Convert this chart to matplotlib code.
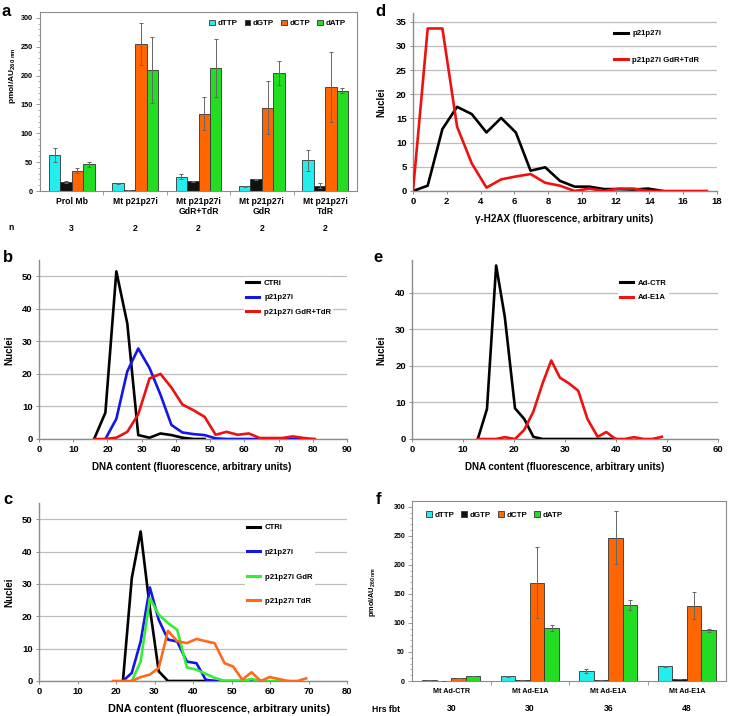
import matplotlib
matplotlib.use('Agg')
import matplotlib.pyplot as plt
import matplotlib.transforms as mtransforms
import numpy as np

plt.rcParams['font.family'] = ['Liberation Sans', 'DejaVu Sans']
plt.rcParams['font.weight'] = 'bold'
plt.rcParams['mathtext.fontset'] = 'custom'
plt.rcParams['mathtext.rm'] = 'Liberation Sans:bold'
plt.rcParams['mathtext.default'] = 'rm'

# ---- panel a: dNTP pools ----
a_groups = ['Prol Mb', 'Mt p21p27i', 'Mt p21p27i\nGdR+TdR', 'Mt p21p27i\nGdR', 'Mt p21p27i\nTdR']
a_n = ['3', '2', '2', '2', '2']
a_dttp = [62, 13, 25, 8, 53]
a_dttp_err = [12, 1, 4, 1, 18]
a_dgtp = [16, 2, 17, 20, 9]
a_dgtp_err = [2, 0.5, 1, 1, 4]
a_dctp = [35, 255, 134, 144, 180]
a_dctp_err = [4, 36, 28, 46, 61]
a_datp = [46, 209, 213, 204, 174]
a_datp_err = [4, 57, 50, 21, 4]

# ---- panel f: dNTP pools, Ad-E1A ----
f_groups = ['Mt Ad-CTR', 'Mt Ad-E1A', 'Mt Ad-E1A', 'Mt Ad-E1A']
f_hrs = ['30', '30', '36', '48']
f_dttp = [2.3, 8, 17, 25]
f_dttp_err = [0, 1, 4, 1]
f_dgtp = [0.6, 1, 2.3, 3.5]
f_dgtp_err = [0, 0, 0, 0]
f_dctp = [4.6, 169, 247, 130]
f_dctp_err = [0, 61, 46, 23]
f_datp = [8, 91, 131, 87]
f_datp_err = [0, 5, 8, 2]

nuc_labels = ['dTTP', 'dGTP', 'dCTP', 'dATP']

# ---- panel b: DNA content ----
b_bins = [16.1, 19.4, 22.6, 25.8, 29.0, 32.3, 35.5, 38.7, 41.9, 45.2, 48.4,
          51.6, 54.8, 58.1, 61.3, 64.5, 67.7, 71.0, 74.2, 77.4, 80.6]
b_ctri = [0, 8.1, 51.5, 35.5, 1.2, 0.4, 1.7, 1.2, 0.4, 0, 0]
b_p21p27i = [0, 6.2, 20.8, 27.8, 21.8, 13.6, 4.3, 2.0, 1.5, 1.2, 0.2, 0, 0, 0, 0, 0, 0, 0, 0]
b_gdr_tdr = [0, 0, 0.4, 2.2, 7.6, 18.6, 20.0, 15.8, 10.6, 8.8, 6.8, 1.3, 2.2, 1.3, 1.7,
             0.3, 0.3, 0.3, 0.8, 0.3, 0]

# ---- panel c: DNA content ----
c_bins = [19.2, 21.8, 24.1, 26.4, 28.8, 31.1, 33.5, 35.9, 38.4, 40.9, 43.3, 45.6,
          48.2, 50.4, 52.8, 55.2, 57.6, 59.9, 62.3, 64.7, 67.1, 69.4]
c_ctri = [0, 31.8, 46.2, 22.5, 3.0, 0, 0, 0, 0, 0, 0]
c_p21p27i = [0, 2.5, 12.2, 28.9, 18.9, 12.8, 12.2, 6.0, 5.5, 0.4, 0, 0, 0, 0, 0.3, 0]
c_gdr = [0, 6.0, 25.6, 20.5, 17.9, 15.8, 4.2, 3.5, 2.2, 1.0, 0, 0, 0, 0.6, 0, 0, 0, 0]
c_tdr = [0, 0, 0, 1.2, 2.0, 4.0, 15.5, 12.3, 11.7, 13.0, 12.3, 11.7, 5.5, 4.5, 0.4,
         2.7, 0, 1.2, 0.6, 0, 0, 0.8]

# ---- panel d: gamma-H2AX ----
d_bins = [0, 0.87, 1.74, 2.61, 3.48, 4.35, 5.22, 6.09, 6.96, 7.83, 8.7, 9.57,
          10.44, 11.31, 12.18, 13.05, 13.92, 14.79, 15.66, 16.53, 17.4]
d_p21p27i = [0, 1.1, 12.8, 17.4, 15.9, 12.1, 15.1, 12.1, 4.2, 4.9, 2.1, 0.9, 0.9,
             0.4, 0.4, 0.3, 0.5, 0]
d_gdr_tdr = [0, 33.6, 33.6, 13.3, 5.7, 0.7, 2.4, 3.0, 3.5, 1.7, 1.1, 0, 0.5, 0,
             0.5, 0.5, 0, 0, 0, 0, 0]

# ---- panel e: DNA content, Ad-E1A ----
e_bins = [12.9, 14.7, 16.5, 18.2, 20.2, 22.0, 23.8, 25.6, 27.3, 29.0, 30.8, 32.6,
          34.4, 36.4, 38.1, 39.9, 41.8, 43.5, 45.4, 47.1, 49.0]
e_ad_ctr = [0, 8.2, 47.5, 33.4, 8.4, 5.5, 0.6, 0, 0, 0, 0, 0, 0, 0, 0, 0]
e_ad_e1a = [0, 0, 0, 0.5, 0, 2.5, 7.5, 15.2, 21.5, 16.8, 15.2, 13.2, 5.5, 0.6, 1.9,
            0, 0, 0.5, 0, 0, 0.6]

W, H = 729, 716
fig = plt.figure(figsize=(W / 100, H / 100), dpi=100)


def box(l, t, r, b):
    return [l / W, 1 - b / H, (r - l) / W, (b - t) / H]


def ftext(x, y, s, **kw):
    fig.text(x / W, 1 - y / H, s, **kw)


BAR_COLORS = ['#22eeee', '#111111', '#ff6600', '#22dd22']
GRID = '#bdbdbd'
SPINE = '#8c8c8c'


def bar_panel(ax, groups, vals, errs, width, tick_fs, leg_anchor, leg_loc):
    x = np.arange(len(groups))
    offs = (np.arange(4) - 1.5) * width
    for k in range(4):
        ax.bar(x + offs[k], vals[k], width, color=BAR_COLORS[k], edgecolor='#333333',
               linewidth=0.6, label=nuc_labels[k], zorder=2)
        ax.errorbar(x + offs[k], vals[k], yerr=errs[k], fmt='none', ecolor='#666666',
                    elinewidth=0.7, capsize=1.5, capthick=0.7, zorder=3)
    ax.set_xlim(-0.5, len(groups) - 0.5)
    ax.set_ylim(0, 310)
    ax.set_yticks(np.arange(0, 301, 50))
    ax.set_yticks(np.arange(0, 301, 10), minor=True)
    ax.set_xticks(np.arange(len(groups) - 1) + 0.5)
    ax.set_xticklabels([])
    ax.tick_params(axis='y', which='major', length=3, width=0.6, color=SPINE,
                   labelsize=tick_fs, pad=2)
    ax.tick_params(axis='y', which='minor', length=1.5, width=0.5, color=SPINE)
    ax.tick_params(axis='x', length=3, width=0.6, color=SPINE)
    for s in ax.spines.values():
        s.set_color(SPINE)
        s.set_linewidth(0.8)
    ax.legend(loc=leg_loc, bbox_to_anchor=leg_anchor, ncol=4, frameon=False,
              fontsize=5.7, handlelength=0.7, handleheight=0.7, handletextpad=0.35,
              columnspacing=0.9, borderpad=0, borderaxespad=0)
    return x


def line_panel(ax, series, xmax, xstep, ymax, ytick_max, ystep, leg_anchor,
               leg_spacing, leg_frame):
    for xs, ys, col, lab in series:
        ax.plot(xs, ys, color=col, lw=1.9, label=lab, zorder=3)
    ax.set_xlim(0, xmax)
    ax.set_ylim(0, ymax)
    ax.set_xticks(np.arange(0, xmax + 0.001, xstep))
    ax.set_yticks(np.arange(0, ytick_max + 0.001, ystep))
    ax.yaxis.grid(True, color=GRID, lw=0.9, zorder=0)
    ax.set_axisbelow(True)
    for s in ['top', 'right']:
        ax.spines[s].set_visible(False)
    for s in ['left', 'bottom']:
        ax.spines[s].set_color(SPINE)
        ax.spines[s].set_linewidth(1.0)
    ax.tick_params(length=2.5, width=0.7, color=SPINE, labelsize=6.8, pad=2)
    leg = ax.legend(loc='center left', bbox_to_anchor=leg_anchor, fontsize=5.6,
                    handlelength=1.7, handletextpad=0.6, labelspacing=leg_spacing,
                    borderpad=0.3, borderaxespad=0, frameon=leg_frame,
                    facecolor='white', edgecolor='none', framealpha=1, fancybox=False)
    for ln in leg.get_lines():
        ln.set_linewidth(2.2)


# ---- a ----
ax_a = fig.add_axes(box(40, 12, 357, 191))
xa = bar_panel(ax_a, a_groups, [a_dttp, a_dgtp, a_dctp, a_datp],
               [a_dttp_err, a_dgtp_err, a_dctp_err, a_datp_err], 0.18, 5.2,
               (0.965, 0.935), 'center right')
trans_a = mtransforms.blended_transform_factory(ax_a.transData, ax_a.transAxes)
for i, g in enumerate(a_groups):
    ax_a.text(i, -0.035, g, transform=trans_a, ha='center', va='top', fontsize=6.2,
              linespacing=1.05)
    ax_a.text(i, -0.21, a_n[i], transform=trans_a, ha='center', va='center', fontsize=6.2)
ftext(11, 228, 'n', ha='center', va='center', fontsize=6.2)
ftext(12, 76, '$\\mathregular{pmol/AU_{260\\ nm}}$', ha='center', va='center',
      rotation=90, fontsize=6)

# ---- d ----
ax_d = fig.add_axes(box(413, 13, 717, 191))
line_panel(ax_d, [(d_bins[:len(d_p21p27i)], d_p21p27i, '#000000', 'p21p27i'),
                  (d_bins, d_gdr_tdr, '#ee1111', 'p21p27i GdR+TdR')],
           18, 2, 36.8, 35, 5, (0.655, 0.81), 2.4, False)
ftext(381, 102, 'Nuclei', ha='center', va='center', rotation=90, fontsize=7)
ftext(564, 219, '\u03b3-H2AX (fluorescence, arbitrary units)', ha='center',
      va='center', fontsize=7.1)

# ---- b ----
ax_b = fig.add_axes(box(39, 260, 347, 439))
line_panel(ax_b, [(b_bins[:len(b_ctri)], b_ctri, '#000000', 'CTRi'),
                  (b_bins[1:1 + len(b_p21p27i)], b_p21p27i, '#1515e6', 'p21p27i'),
                  (b_bins, b_gdr_tdr, '#ee1111', 'p21p27i GdR+TdR')],
           90, 10, 55, 50, 10, (0.665, 0.79), 0.9, True)
ftext(9, 350, 'Nuclei', ha='center', va='center', rotation=90, fontsize=7)
ftext(192, 467, 'DNA content (fluorescence, arbitrary units)', ha='center',
      va='center', fontsize=7)

# ---- e ----
ax_e = fig.add_axes(box(412, 260, 718, 439))
line_panel(ax_e, [(e_bins[:len(e_ad_ctr)], e_ad_ctr, '#000000', 'Ad-CTR'),
                  (e_bins, e_ad_e1a, '#ee1111', 'Ad-E1A')],
           60, 10, 49, 40, 10, (0.672, 0.83), 0.9, True)
ftext(381, 350, 'Nuclei', ha='center', va='center', rotation=90, fontsize=7)
ftext(565, 467, 'DNA content (fluorescence, arbitrary units)', ha='center',
      va='center', fontsize=7)

# ---- c ----
ax_c = fig.add_axes(box(39, 503, 347, 681))
line_panel(ax_c, [(c_bins[1:1 + len(c_ctri)], c_ctri, '#000000', 'CTRi'),
                  (c_bins[1:1 + len(c_p21p27i)], c_p21p27i, '#1515e6', 'p21p27i'),
                  (c_bins[2:2 + len(c_gdr)], c_gdr, '#33ee33', 'p21p27i GdR'),
                  (c_bins, c_tdr, '#ff6a1a', 'p21p27i TdR')],
           80, 10, 55, 50, 10, (0.668, 0.654), 2.2, True)
ftext(9, 592, 'Nuclei', ha='center', va='center', rotation=90, fontsize=7)
ftext(219, 709, 'DNA content (fluorescence, arbitrary units)', ha='center',
      va='center', fontsize=7.8)

# ---- f ----
ax_f = fig.add_axes(box(412, 501, 726, 681))
xf = bar_panel(ax_f, f_groups, [f_dttp, f_dgtp, f_dctp, f_datp],
               [f_dttp_err, f_dgtp_err, f_dctp_err, f_datp_err], 0.185, 5.0,
               (0.045, 0.922), 'center left')
trans_f = mtransforms.blended_transform_factory(ax_f.transData, ax_f.transAxes)
for i, g in enumerate(f_groups):
    ax_f.text(i, -0.06, g, transform=trans_f, ha='center', va='center', fontsize=5.2)
    ax_f.text(i, -0.155, f_hrs[i], transform=trans_f, ha='center', va='center',
              fontsize=6.2)
ftext(372, 709, 'Hrs fbt', ha='left', va='center', fontsize=6.2)
ftext(372, 592, '$\\mathregular{pmol/AU_{260\\ nm}}$', ha='center', va='center',
      rotation=90, fontsize=5.3)

# panel letters
for lab, (px, py) in {'a': (2, 12), 'd': (375, 12), 'b': (3, 257), 'e': (373, 257),
                      'c': (3, 499), 'f': (376, 499)}.items():
    ftext(px, py, lab, ha='left', va='center', fontsize=12, fontweight='bold')

fig.savefig('out.png', dpi=100)
